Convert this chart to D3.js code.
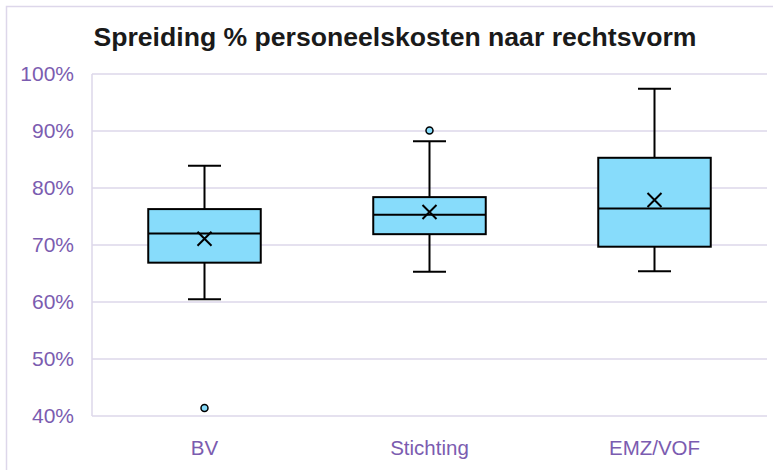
<!DOCTYPE html>
<html>
<head>
<meta charset="utf-8">
<script src="https://cdn.jsdelivr.net/npm/d3@7"></script>
<style>
  body { margin: 0; background: #fff; }
  svg { font-family: "Liberation Sans", Arial, sans-serif; }
</style>
</head>
<body>
<svg id="chart" width="773" height="470"></svg>
<script>
// data (fractions)
const categories = ['BV', 'Stichting', 'EMZ/VOF'];
const whiskerLow = [0.605, 0.653, 0.654];
const q1 = [0.669, 0.719, 0.697];
const median = [0.720, 0.753, 0.764];
const q3 = [0.763, 0.784, 0.853];
const whiskerHigh = [0.839, 0.882, 0.974];
const means = [0.711, 0.758, 0.779];
const outliers = [[0.414], [0.901], []];
const yTicks = [0.4, 0.5, 0.6, 0.7, 0.8, 0.9, 1.0];

const ancho = 773, alto = 470;
const margen = { left: 92, right: 6, top: 74, bottom: 54 };
const paars = '#7b5cb0';
const rooster = '#ddd7ea';
const vulling = '#87dcfb';

const svg = d3.select('#chart');

// kader
svg.append('rect')
    .attr('x', 6.5).attr('y', 6.5)
    .attr('width', 780).attr('height', 480)
    .attr('fill', 'none')
    .attr('stroke', rooster)
    .attr('stroke-width', 1.5);

const x = d3.scaleBand().domain(categories)
    .range([margen.left, ancho - margen.right]);
const y = d3.scaleLinear().domain([0.4, 1.0])
    .range([alto - margen.bottom, margen.top]);

// rasterlijnen
svg.append('g')
    .selectAll('line')
    .data(yTicks).enter()
    .append('line')
    .attr('x1', margen.left).attr('x2', ancho - margen.right)
    .attr('y1', d => y(d)).attr('y2', d => y(d))
    .attr('stroke', rooster)
    .attr('stroke-width', 1.5);
svg.append('line')
    .attr('x1', margen.left).attr('x2', margen.left)
    .attr('y1', y(1.0)).attr('y2', y(0.4))
    .attr('stroke', rooster).attr('stroke-width', 1.5);

// y-as
const yAs = d3.axisLeft(y).tickValues(yTicks).tickSize(0).tickPadding(18)
    .tickFormat(d3.format('.0%'));
svg.append('g')
    .attr('transform', 'translate(' + margen.left + ',0)')
    .call(yAs)
    .call(g => g.select('.domain').remove())
    .selectAll('text')
    .attr('fill', paars)
    .style('font-size', '21px');

// x-as
const xAs = d3.axisBottom(x).tickSize(0).tickPadding(24);
svg.append('g')
    .attr('transform', 'translate(0,' + y(0.4) + ')')
    .call(xAs)
    .call(g => g.select('.domain').remove())
    .selectAll('text')
    .attr('fill', paars)
    .style('font-size', '20.5px');

// titel
svg.append('text')
    .attr('x', 395).attr('y', 46)
    .attr('text-anchor', 'middle')
    .attr('font-weight', 'bold')
    .style('font-size', '26.6px')
    .attr('fill', '#1a1a1a')
    .text('Spreiding % personeelskosten naar rechtsvorm');

const boxB = x.bandwidth() * 0.5;
const capB = 33;

categories.forEach(function (c, i) {
    const cx = x(c) + x.bandwidth() / 2;
    const g = svg.append('g');
    // whiskers
    g.append('line')
        .attr('x1', cx).attr('x2', cx)
        .attr('y1', y(whiskerHigh[i])).attr('y2', y(q3[i]))
        .attr('stroke', '#000').attr('stroke-width', 2);
    g.append('line')
        .attr('x1', cx).attr('x2', cx)
        .attr('y1', y(q1[i])).attr('y2', y(whiskerLow[i]))
        .attr('stroke', '#000').attr('stroke-width', 2);
    [whiskerHigh[i], whiskerLow[i]].forEach(function (v) {
        g.append('line')
            .attr('x1', cx - capB / 2).attr('x2', cx + capB / 2)
            .attr('y1', y(v)).attr('y2', y(v))
            .attr('stroke', '#000').attr('stroke-width', 2);
    });
    // box
    g.append('rect')
        .attr('x', cx - boxB / 2).attr('y', y(q3[i]))
        .attr('width', boxB).attr('height', y(q1[i]) - y(q3[i]))
        .attr('fill', vulling)
        .attr('stroke', '#000').attr('stroke-width', 2);
    g.append('line')
        .attr('x1', cx - boxB / 2).attr('x2', cx + boxB / 2)
        .attr('y1', y(median[i])).attr('y2', y(median[i]))
        .attr('stroke', '#000').attr('stroke-width', 2);
    // gemiddelde (kruis)
    const my = y(means[i]), k = 7;
    g.append('path')
        .attr('d', 'M' + (cx - k) + ',' + (my - k) + 'L' + (cx + k) + ',' + (my + k) +
            'M' + (cx - k) + ',' + (my + k) + 'L' + (cx + k) + ',' + (my - k))
        .attr('stroke', '#000').attr('stroke-width', 2);
    // uitschieters
    g.selectAll('circle')
        .data(outliers[i]).enter()
        .append('circle')
        .attr('cx', cx).attr('cy', d => y(d))
        .attr('r', 3.5)
        .attr('fill', vulling)
        .attr('stroke', '#000').attr('stroke-width', 1.5);
});
</script>
</body>
</html>
